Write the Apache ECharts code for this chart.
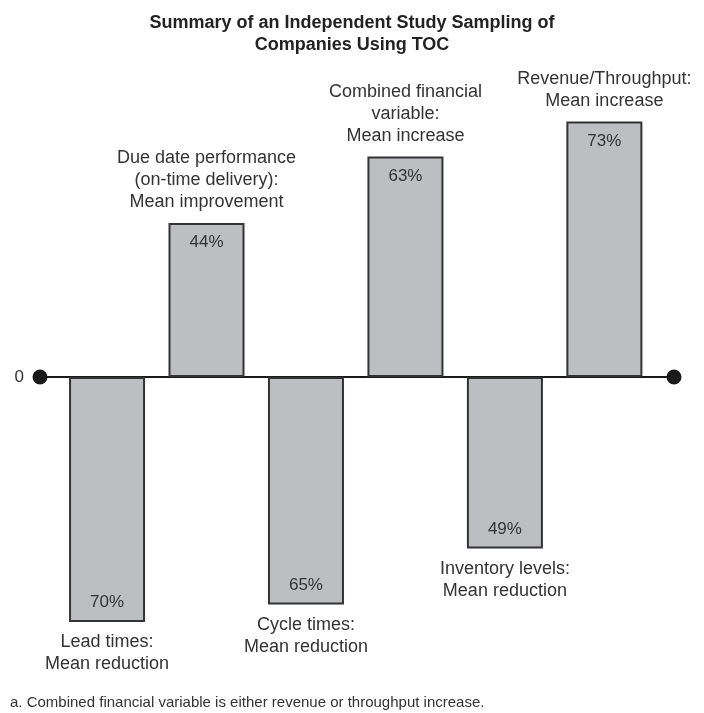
<!DOCTYPE html>
<html>
<head>
<meta charset="utf-8">
<script src="https://cdn.jsdelivr.net/npm/echarts@6/dist/echarts.min.js"></script>
<style>
  html, body { margin: 0; padding: 0; background: #fff; }
  #chart_box { width: 704px; height: 713px; }
</style>
</head>
<body>
<div id="chart_box"></div>
<script>
// categories and mean changes (negative = reduction, drawn below zero)
let categories = [
    'Lead times:\nMean reduction',
    'Due date performance\n(on-time delivery):\nMean improvement',
    'Cycle times:\nMean reduction',
    'Combined financial\nvariable:\nMean increase',
    'Inventory levels:\nMean reduction',
    'Revenue/Throughput:\nMean increase'
];
let values = [-70, 44, -65, 63, -49, 73];
let yTicks = [-80, 0, 80];

let font = '"Liberation Sans", Arial, sans-serif';
let textColor = '#333';

let myChart = echarts.init(document.getElementById('chart_box'));

// bars with percentage inside, near the free end
let barData = values.map(function (v, i) {
    return {
        value: [i, v],
        label: {
            position: v >= 0 ? 'insideTop' : 'insideBottom',
            distance: 11
        }
    };
});

// invisible points at bar ends, carrying the category captions
let captionData = values.map(function (v, i) {
    return {
        value: [i, v],
        name: categories[i],
        label: {
            position: v >= 0 ? 'top' : 'bottom',
            distance: 9
        }
    };
});

let myOption = {
    backgroundColor: '#fff',
    animation: false,
    title: {
        text: 'Summary of an Independent Study Sampling of\nCompanies Using TOC',
        left: 'center',
        top: 7,
        textStyle: {
            fontFamily: font,
            fontSize: 18,
            fontWeight: 'bold',
            color: '#222',
            lineHeight: 22
        }
    },
    grid: {
        left: 40,
        right: 30,
        top: 97,
        bottom: 56
    },
    xAxis: {
        type: 'value',
        min: -0.674,
        max: 5.70,
        axisLine: {
            show: true,
            onZero: true,
            symbol: ['circle', 'circle'],
            symbolSize: [15, 15],
            lineStyle: { color: '#1a1a1a', width: 2 }
        },
        axisTick: { show: false },
        axisLabel: { show: false },
        splitLine: { show: false }
    },
    yAxis: {
        type: 'value',
        min: yTicks[0],
        max: yTicks[2],
        interval: 80,
        axisLine: { show: false },
        axisTick: { show: false },
        splitLine: { show: false },
        axisLabel: {
            margin: 16,
            fontFamily: font,
            fontSize: 17,
            color: textColor,
            formatter: function (v) {
                return v === 0 ? '0' : '';
            }
        }
    },
    series: [
        {
            name: 'bars',
            type: 'bar',
            barWidth: 76,
            data: barData,
            itemStyle: {
                color: '#bdbec2',
                borderColor: '#333',
                borderWidth: 2
            },
            label: {
                show: true,
                fontFamily: font,
                fontSize: 17,
                color: textColor,
                formatter: function (p) {
                    return Math.abs(p.value[1]) + '%';
                }
            },
            z: 3
        },
        {
            name: 'captions',
            type: 'scatter',
            symbolSize: 1,
            data: captionData,
            itemStyle: { color: 'transparent', opacity: 1 },
            label: {
                show: true,
                fontFamily: font,
                fontSize: 18,
                lineHeight: 22,
                align: 'center',
                color: textColor,
                opacity: 1,
                formatter: function (p) {
                    return p.name;
                }
            },
            silent: true,
            z: 4
        }
    ],
    graphic: [
        {
            type: 'text',
            left: 10,
            bottom: 3,
            style: {
                text: 'a. Combined financial variable is either revenue or throughput increase.',
                fontFamily: font,
                fontSize: 15,
                fill: textColor
            }
        }
    ]
};

myChart.setOption(myOption);
</script>
</body>
</html>
